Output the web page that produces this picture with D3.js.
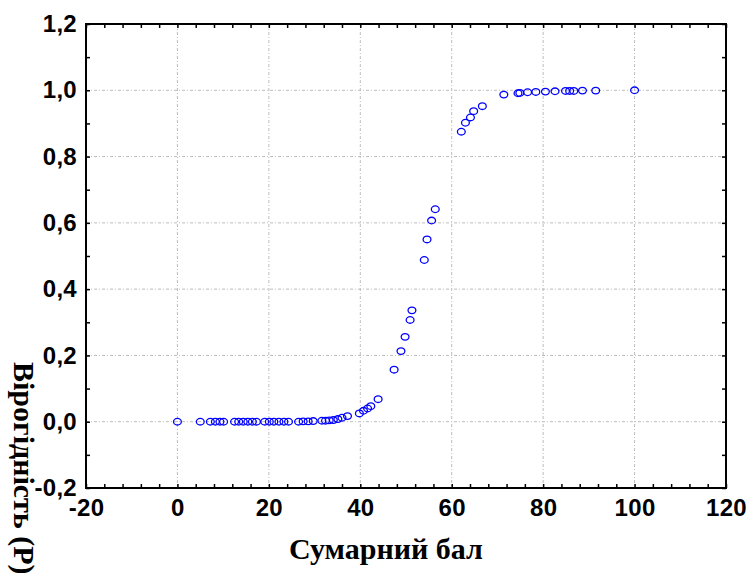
<!DOCTYPE html>
<html>
<head>
<meta charset="utf-8">
<script src="https://cdn.jsdelivr.net/npm/d3@7"></script>
<style>
  body { margin: 0; background: #fff; }
  .tickLabel text { font-family: "Liberation Sans", Arial, sans-serif; font-weight: bold; font-size: 24px; letter-spacing: 0.3px; fill: #000; }
  .axisTitle { font-family: "Liberation Serif", "Times New Roman", serif; font-weight: bold; font-size: 30px; fill: #000; }
</style>
</head>
<body>
<div id="svg-area"></div>
<script>
// chart data: total score vs probability
var scores = [0, 5, 7.2, 8.3, 9.3, 10.1, 12.5, 13.4, 14.4, 15.4, 16.4, 17.3, 19.1, 20.1, 21.1, 22.2,
  23.3, 24.3, 26.5, 27.5, 28.6, 29.7, 31.6, 32.4, 33.2, 34.1, 35.1, 36, 37.2, 39.8, 40.7, 41.6,
  42.3, 43.9, 47.4, 48.9, 49.8, 50.9, 51.3, 54.0, 54.6, 55.6, 56.4, 62.1, 63.0, 64.1, 64.8, 66.7,
  71.4, 74.5, 74.9, 76.6, 78.4, 80.5, 82.6, 84.9, 85.8, 86.7, 88.6, 91.5, 100];
var probs = [0, 0, 0, 0, 0, 0, 0, 0, 0, 0, 0, 0, 0, 0, 0, 0,
  0, 0, 0, 0.001, 0.001, 0.002, 0.003, 0.003, 0.004, 0.005, 0.008, 0.012, 0.017, 0.025, 0.033, 0.04,
  0.047, 0.068, 0.157, 0.213, 0.256, 0.307, 0.336, 0.488, 0.55, 0.607, 0.641, 0.875, 0.902, 0.918, 0.937, 0.952,
  0.987, 0.991, 0.992, 0.994, 0.995, 0.996, 0.997, 0.998, 0.998, 0.998, 0.999, 0.999, 1.0];

var xTicks = [-20, 0, 20, 40, 60, 80, 100, 120];
var yTicks = [-0.2, 0, 0.2, 0.4, 0.6, 0.8, 1.0, 1.2];
var xTitle = "Сумарний бал";
var yTitle = "Вірогідність (Р)";

// svg container
var svgWidth = 749;
var svgHeight = 573;
var margin = { top: 24, right: 23, bottom: 85, left: 86 };
var chartWidth = svgWidth - margin.left - margin.right;
var chartHeight = svgHeight - margin.top - margin.bottom;

var svg = d3.select("#svg-area").append("svg")
  .attr("width", svgWidth)
  .attr("height", svgHeight);

var chartGroup = svg.append("g")
  .attr("transform", `translate(${margin.left}, ${margin.top})`);

var data = scores.map((s, i) => ({ score: s, p: probs[i] }));

// scales
var xScale = d3.scaleLinear().domain([-20, 120]).range([0, chartWidth]);
var yScale = d3.scaleLinear().domain([-0.2, 1.2]).range([chartHeight, 0]);

var locale = d3.formatLocale({ decimal: ",", thousands: " ", grouping: [3], currency: ["", ""], minus: "-" });
var yFormat = locale.format(".1f");
var xFormat = locale.format("d");

// grid lines
chartGroup.append("g")
  .selectAll("line")
  .data(xTicks.slice(1, -1))
  .enter()
  .append("line")
  .attr("x1", d => xScale(d)).attr("x2", d => xScale(d))
  .attr("y1", 0).attr("y2", chartHeight)
  .attr("stroke", "#bdbdbd").attr("stroke-dasharray", "3,2,1,2");

chartGroup.append("g")
  .selectAll("line")
  .data(yTicks.slice(1, -1))
  .enter()
  .append("line")
  .attr("y1", d => yScale(d)).attr("y2", d => yScale(d))
  .attr("x1", 0).attr("x2", chartWidth)
  .attr("stroke", "#bdbdbd").attr("stroke-dasharray", "3,2,1,2");

// minor ticks (inward, all four sides)
var xMinor = d3.range(-20, 121, 4);
var yMinor = d3.range(-2, 13).map(d => d / 10);

function noText(g) { g.selectAll("text").remove(); g.select(".domain").remove(); }

chartGroup.append("g")
  .attr("transform", `translate(0, ${chartHeight})`)
  .call(d3.axisTop(xScale).tickValues(xMinor).tickSize(4))
  .call(noText);
chartGroup.append("g")
  .call(d3.axisBottom(xScale).tickValues(xMinor).tickSize(4))
  .call(noText);
chartGroup.append("g")
  .call(d3.axisRight(yScale).tickValues(yMinor).tickSize(4))
  .call(noText);
chartGroup.append("g")
  .attr("transform", `translate(${chartWidth}, 0)`)
  .call(d3.axisLeft(yScale).tickValues(yMinor).tickSize(4))
  .call(noText);
chartGroup.selectAll(".tick line").attr("stroke", "#000").attr("stroke-width", 1.5);

// frame
chartGroup.append("rect")
  .attr("width", chartWidth)
  .attr("height", chartHeight)
  .attr("fill", "none")
  .attr("stroke", "#000")
  .attr("stroke-width", 2);

// tick labels
var bottomAxis = d3.axisBottom(xScale).tickValues(xTicks).tickSize(0).tickPadding(11).tickFormat(xFormat);
var leftAxis = d3.axisLeft(yScale).tickValues(yTicks).tickSize(0).tickPadding(9).tickFormat(yFormat);

chartGroup.append("g")
  .attr("class", "tickLabel")
  .attr("transform", `translate(0, ${chartHeight})`)
  .call(bottomAxis)
  .call(g => g.select(".domain").remove());

chartGroup.append("g")
  .attr("class", "tickLabel")
  .call(leftAxis)
  .call(g => g.select(".domain").remove());

// points
chartGroup.selectAll("ellipse.pt")
  .data(data)
  .enter()
  .append("ellipse")
  .attr("class", "pt")
  .attr("cx", d => xScale(d.score))
  .attr("cy", d => yScale(d.p))
  .attr("rx", 3.9)
  .attr("ry", 3.3)
  .attr("fill", "none")
  .attr("stroke", "#0000ff")
  .attr("stroke-width", 1.3);

// axis titles
svg.append("text")
  .attr("class", "axisTitle")
  .attr("x", 386)
  .attr("y", 559)
  .attr("text-anchor", "middle")
  .text(xTitle);

svg.append("text")
  .attr("class", "axisTitle")
  .attr("transform", "translate(14, 362) rotate(90)")
  .text(yTitle);
</script>
</body>
</html>
